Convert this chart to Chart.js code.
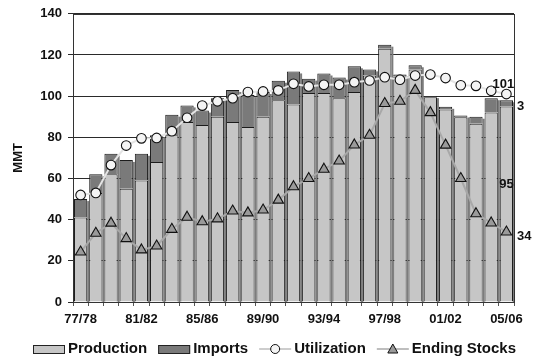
<!DOCTYPE html>
<html>
<head>
<meta charset="utf-8">
<style>
  html, body { margin: 0; padding: 0; background: #ffffff; }
  #wrap { width: 534px; height: 363px; position: relative; }
</style>
<script src="https://cdn.jsdelivr.net/npm/chart.js@4.4.1/dist/chart.umd.min.js"></script>
</head>
<body>
<div id="wrap"><canvas id="chart" width="534" height="363"></canvas></div>
<script>
// Marketing years shown on the category axis
const seasons = [
  '77/78','78/79','79/80','80/81','81/82','82/83','83/84','84/85','85/86','86/87',
  '87/88','88/89','89/90','90/91','91/92','92/93','93/94','94/95','95/96','96/97',
  '97/98','98/99','99/00','00/01','01/02','02/03','03/04','04/05','05/06'
];

// Supply components (million metric tons)
const production = [41, 53, 62, 55, 59, 68, 81, 87.5, 86, 90,
                    87.5, 85, 90, 98, 96, 101.5, 101.5, 99, 102, 110,
                    123, 109.5, 113, 99.5, 93.5, 89.8, 86.6, 92, 95];
const imports    = [9, 9, 10, 14, 13, 13, 10, 8, 7, 9,
                    15.5, 15.5, 12, 9.5, 16, 7, 9.5, 10, 12.5, 3,
                    2, 1, 2, 0.5, 1.3, 0.8, 3.4, 7, 3];

// Demand side and carry-over
const utilization   = [52, 53, 66.5, 76, 79.5, 79.7, 83, 89.5, 95.4, 97.5,
                       99, 102, 102.3, 102.8, 106, 104.7, 105.5, 105.5, 106.8, 107.6,
                       109.2, 108, 110, 110.5, 108.8, 105.3, 105, 102.6, 101];
const endingStocks  = [24.3, 33.4, 38.3, 30.8, 25.3, 27.2, 35.3, 41.2, 39, 40.4,
                       44.2, 43.3, 44.7, 49.5, 56, 60, 64.5, 68.5, 76.3, 81,
                       96.4, 97.5, 102.8, 92, 76.2, 60, 42.9, 38.4, 34];

// Value axis ticks
const yTicks = [0, 20, 40, 60, 80, 100, 120, 140];

const FONT = "'Liberation Sans', Arial, Helvetica, sans-serif";

// Drop shadow on the right of each supply column
const barShadowPlugin = {
  id: 'barShadow',
  beforeDatasetsDraw(chart) {
    const { ctx } = chart;
    const ys = chart.scales.y;
    const bars = chart.getDatasetMeta(0).data;
    ctx.save();
    ctx.fillStyle = '#7c7c7c';
    bars.forEach((b, i) => {
      const top = ys.getPixelForValue(production[i] + imports[i]);
      const base = ys.getPixelForValue(0);
      const right = b.x + b.width / 2;
      ctx.fillRect(right, top + 2, 2, base - top - 2);
    });
    ctx.restore();
  }
};

// Frame around the plotting area
const framePlugin = {
  id: 'frame',
  afterDraw(chart) {
    const { ctx, chartArea: a } = chart;
    ctx.save();
    ctx.strokeStyle = '#333333';
    ctx.lineWidth = 1;
    ctx.strokeRect(Math.round(a.left) + 0.5, Math.round(a.top) + 0.5,
                   Math.round(a.right - a.left), Math.round(a.bottom - a.top));
    ctx.restore();
  }
};

// Value labels for the latest season
const lastLabelsPlugin = {
  id: 'lastLabels',
  afterDraw(chart) {
    const { ctx, chartArea: a } = chart;
    const ys = chart.scales.y;
    const n = seasons.length - 1;
    const uPt = chart.getDatasetMeta(2).data[n];
    const sPt = chart.getDatasetMeta(3).data[n];
    const bar = chart.getDatasetMeta(0).data[n];
    ctx.save();
    ctx.fillStyle = '#111111';
    ctx.font = 'bold 13px ' + FONT;
    ctx.textBaseline = 'middle';

    ctx.textAlign = 'center';
    ctx.fillText(String(Math.round(utilization[n])), uPt.x - 3, uPt.y - 10);
    ctx.fillText(String(Math.round(production[n])), bar.x, ys.getPixelForValue(production[n] * 0.6));

    ctx.textAlign = 'left';
    ctx.fillText(String(Math.round(imports[n])), a.right + 3,
                 ys.getPixelForValue(production[n] + imports[n] / 2) + 3);
    ctx.fillText(String(Math.round(endingStocks[n])), a.right + 3, sPt.y + 4);
    ctx.restore();
  }
};

// Legend row along the bottom edge
const legendPlugin = {
  id: 'bottomLegend',
  afterDraw(chart) {
    const { ctx } = chart;
    const yc = 349;
    ctx.save();
    ctx.font = 'bold 15px ' + FONT;
    ctx.textBaseline = 'middle';
    ctx.textAlign = 'left';
    let x = 33;
    const items = chart.data.datasets;
    items.forEach((ds) => {
      if (ds.type === 'line') {
        ctx.strokeStyle = ds.pointStyle === 'circle' ? '#bdbdbd' : ds.borderColor;
        ctx.lineWidth = 1.5;
        ctx.beginPath();
        ctx.moveTo(x, yc); ctx.lineTo(x + 32, yc);
        ctx.stroke();
        ctx.fillStyle = ds.pointBackgroundColor;
        ctx.strokeStyle = '#111111';
        ctx.lineWidth = 1;
        if (ds.pointStyle === 'circle') {
          ctx.beginPath();
          ctx.arc(x + 16, yc, 4.5, 0, Math.PI * 2);
          ctx.fill(); ctx.stroke();
        } else {
          ctx.beginPath();
          ctx.moveTo(x + 16, yc - 5);
          ctx.lineTo(x + 21, yc + 4);
          ctx.lineTo(x + 11, yc + 4);
          ctx.closePath();
          ctx.fill(); ctx.stroke();
        }
        x += 35;
      } else {
        ctx.fillStyle = ds.backgroundColor;
        ctx.strokeStyle = '#222222';
        ctx.lineWidth = 1;
        ctx.fillRect(x, yc - 4, 32, 9);
        ctx.strokeRect(x + 0.5, yc - 3.5, 31, 8);
        x += 35;
      }
      ctx.fillStyle = '#111111';
      ctx.fillText(ds.label, x, yc);
      x += ctx.measureText(ds.label).width + 11;
    });
    ctx.restore();
  }
};

new Chart(document.getElementById('chart'), {
  type: 'bar',
  data: {
    labels: seasons,
    datasets: [
      {
        label: 'Production',
        data: production,
        stack: 'supply',
        backgroundColor: '#c6c6c6',
        borderColor: '#1c1c1c',
        borderWidth: 1,
        order: 3
      },
      {
        label: 'Imports',
        data: imports,
        stack: 'supply',
        backgroundColor: '#7a7a7a',
        borderColor: '#1c1c1c',
        borderWidth: 1,
        order: 3
      },
      {
        type: 'line',
        label: 'Utilization',
        data: utilization,
        stack: 'use',
        borderColor: '#e4e4e4',
        borderWidth: 2,
        pointStyle: 'circle',
        pointRadius: 4.8,
        pointBackgroundColor: '#f4f4f4',
        pointBorderColor: '#111111',
        pointBorderWidth: 1.1,
        tension: 0,
        order: 1
      },
      {
        type: 'line',
        label: 'Ending Stocks',
        data: endingStocks,
        stack: 'stocks',
        borderColor: '#a8a8a8',
        borderWidth: 2,
        pointStyle: 'triangle',
        pointRadius: 6,
        pointBackgroundColor: '#9a9a9a',
        pointBorderColor: '#111111',
        pointBorderWidth: 1.1,
        tension: 0,
        order: 2
      }
    ]
  },
  options: {
    responsive: false,
    animation: false,
    layout: { padding: { left: 0, right: 20, top: 12, bottom: 30 } },
    plugins: {
      legend: { display: false },
      tooltip: { enabled: false }
    },
    datasets: {
      bar: { categoryPercentage: 1.0, barPercentage: 0.87 }
    },
    scales: {
      x: {
        stacked: true,
        grid: { display: true, drawOnChartArea: false, tickLength: 4, color: '#555555' },
        border: { display: true, color: '#333333' },
        ticks: {
          autoSkip: false,
          maxRotation: 0,
          minRotation: 0,
          padding: 6,
          color: '#111111',
          font: { family: FONT, size: 13, weight: 'bold' },
          callback: (v, i) => (i % 4 === 0 ? seasons[i] : '')
        },
        afterFit: (s) => { s.height = 31; }
      },
      y: {
        stacked: true,
        min: yTicks[0],
        max: yTicks[yTicks.length - 1],
        afterBuildTicks: (s) => { s.ticks = yTicks.map(v => ({ value: v })); },
        grid: { color: '#2a2a2a', lineWidth: 1, tickLength: 5 },
        border: { display: true, color: '#333333' },
        ticks: {
          padding: 6,
          color: '#111111',
          font: { family: FONT, size: 13, weight: 'bold' }
        },
        title: {
          display: true,
          text: 'MMT',
          color: '#111111',
          padding: { top: 11, bottom: 0 },
          font: { family: FONT, size: 13, weight: 'bold' }
        },
        afterFit: (s) => { s.width = 73; }
      }
    }
  },
  plugins: [barShadowPlugin, framePlugin, lastLabelsPlugin, legendPlugin]
});
</script>
</body>
</html>
